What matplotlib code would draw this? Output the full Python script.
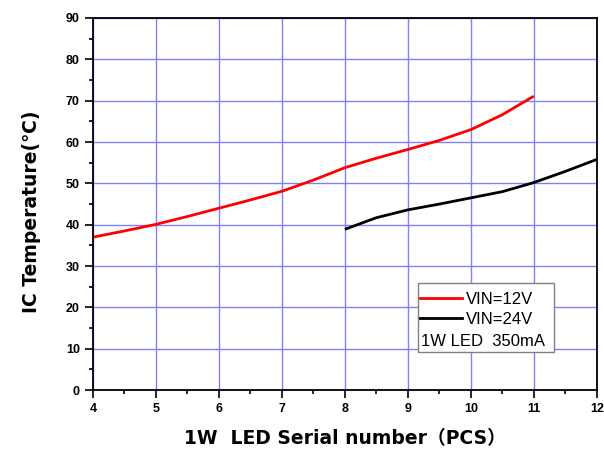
import matplotlib.pyplot as plt
from matplotlib.lines import Line2D
from matplotlib.patches import Rectangle
from matplotlib.ticker import MultipleLocator

# values
x_12v = [4, 4.5, 5, 5.5, 6, 6.5, 7, 7.5, 8, 8.5, 9, 9.5, 10, 10.5, 11]
t_12v = [37.0, 38.5, 40.1, 42.0, 44.0, 46.0, 48.1, 50.8, 53.8, 56.1, 58.2, 60.4, 63.0, 66.6, 71.1]
x_24v = [8, 8.5, 9, 9.5, 10, 10.5, 11, 11.5, 12]
t_24v = [38.9, 41.7, 43.6, 45.0, 46.5, 48.0, 50.2, 52.9, 55.8]

xticks = [4, 5, 6, 7, 8, 9, 10, 11, 12]
yticks = [0, 10, 20, 30, 40, 50, 60, 70, 80, 90]

fam = ['Liberation Sans', 'DejaVu Sans', 'Noto Sans CJK SC']
plt.rcParams['font.family'] = fam

fig = plt.figure(figsize=(6.04, 4.5), dpi=100)
ax = fig.add_axes([0.154, 0.133, 0.834, 0.827])

ax.grid(True, color='#8080ff', lw=1.0)
ax.set_axisbelow(True)

ax.plot(x_12v, t_12v, color='#ff0000', lw=2.0, solid_capstyle='butt')
ax.plot(x_24v, t_24v, color='black', lw=2.0, solid_capstyle='butt')

ax.set_xlim(4, 12)
ax.set_ylim(0, 90)
ax.set_xticks(xticks)
ax.set_yticks(yticks)
ax.xaxis.set_minor_locator(MultipleLocator(0.5))
ax.yaxis.set_minor_locator(MultipleLocator(5))
ax.tick_params(which='major', direction='out', length=6, width=1.2, labelsize=9)
ax.tick_params(which='minor', direction='out', length=3, width=1.2)
for lab in ax.get_xticklabels() + ax.get_yticklabels():
    lab.set_fontweight('bold')
for s in ax.spines.values():
    s.set_linewidth(1.3)

lab_fam = ['DejaVu Sans', 'Noto Sans CJK SC']
ax.set_xlabel('1W  LED Serial number\uff08PCS\uff09', fontsize=13.5, fontweight='bold',
              family=lab_fam, labelpad=10)
ax.set_ylabel('IC Temperature(\u2103)', fontsize=13.5, fontweight='bold',
              family=lab_fam)
ax.yaxis.set_label_coords(-0.104, 0.48)

# legend box
ax.add_patch(Rectangle((0.645, 0.102), 0.27, 0.186, transform=ax.transAxes,
                       facecolor='white', edgecolor='#808080', lw=1.0, zorder=5))
handles = [Line2D([], [], color='#ff0000', lw=2.0), Line2D([], [], color='black', lw=2.0)]
ax.legend(handles, ['VIN=12V', 'VIN=24V'], loc='center left', bbox_to_anchor=(0.649, 0.216),
          frameon=False, fontsize=12, handlelength=2.5, handletextpad=0.25,
          labelspacing=0.3, borderaxespad=0.0, borderpad=0.0).set_zorder(6)
ax.text(0.651, 0.132, '1W LED  350mA', transform=ax.transAxes, fontsize=12,
        va='center', ha='left', zorder=7)

fig.savefig('out.png', dpi=100)
